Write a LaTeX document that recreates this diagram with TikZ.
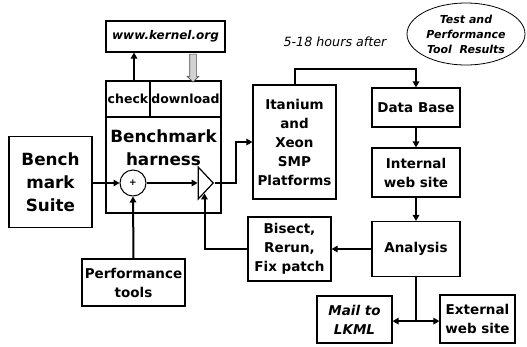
\documentclass[tikz,border=0pt]{standalone}
\usepackage{fontspec}
\setmainfont{DejaVu Sans}[ItalicFont=DejaVu Sans Oblique,BoldItalicFont=DejaVu Sans Bold Oblique]
\usetikzlibrary{arrows.meta,shapes.geometric,shapes.arrows}

\begin{document}
\begin{tikzpicture}[x=1pt,y=-1pt,
    blk/.style={draw, line width=1.2pt, inner sep=0pt, align=center, font=\fontsize{13.5}{19}\selectfont\bfseries},
    link/.style={line width=2pt, -{Triangle[length=6pt,width=6.5pt]}}]
	\useasboundingbox (0,0) rectangle (527,346);
	
	\node[blk, minimum width=119, minimum height=31, font=\fontsize{12}{14}\selectfont\bfseries\itshape] (kernel) at (165.5,36.5) {www.kernel.org};
	\node[blk, minimum width=115, minimum height=132] (harness) at (163.5,147) {};
	\node[blk, minimum width=44, minimum height=36, font=\fontsize{12.5}{14}\selectfont\bfseries] (check) at (128,99) {check};
	\node[blk, minimum width=71, minimum height=36, font=\fontsize{12.5}{14}\selectfont\bfseries] (download) at (185.5,99) {download};
	\node[align=center, font=\fontsize{16.8}{23}\selectfont\bfseries] (hlabel) at (163.5,148) {Benchmark\\harness};
	\node[draw, circle, line width=1pt, minimum size=26, inner sep=0pt, font=\fontsize{9}{9}\selectfont\bfseries] (plus) at (133,183) {+};
	\node[draw, isosceles triangle, isosceles triangle stretches, line width=1.2pt, minimum width=32, minimum height=15, inner sep=0pt] (amp) at (204.5,183) {};
	\node[single arrow, draw=gray!60!black, fill=gray!35, line width=.6pt, rotate=-90, minimum height=28, inner sep=3pt, single arrow head extend=2.5pt, single arrow head indent=0pt] (dl) at (193,66.5) {};
	
	\node[blk, minimum width=83, minimum height=91, font=\fontsize{16.8}{23}\selectfont\bfseries] (suite) at (50.5,182) {Bench\\mark\\Suite};
	\node[blk, minimum width=103, minimum height=47] (perf) at (133.5,282.5) {Performance\\tools};
	\node[blk, minimum width=83, minimum height=114] (itanium) at (294.5,142) {Itanium\\and\\Xeon\\SMP\\Platforms};
	\node[blk, minimum width=83, minimum height=64] (bisect) at (289.5,249) {Bisect,\\Rerun,\\Fix patch};
	\node[blk, minimum width=88, minimum height=39] (database) at (416,107.5) {Data Base};
	\node[blk, minimum width=88, minimum height=49] (internal) at (416,172.5) {Internal\\web site};
	\node[blk, minimum width=88, minimum height=55] (analysis) at (416,249) {Analysis};
	\node[blk, minimum width=75, minimum height=47, font=\fontsize{13.5}{19}\selectfont\bfseries\itshape] (mail) at (354.5,319.5) {Mail to\\LKML};
	\node[blk, minimum width=75, minimum height=48] (external) at (477.5,319) {External\\web site};
	
	\node[align=center, inner sep=0pt, font=\fontsize{11}{15}\selectfont\bfseries\itshape] (results) at (466,34) {Test and\\Performance\\Tool\ \ Results};
	\draw[line width=.8pt] (results.center) ellipse [x radius=59, y radius=31];
	\node[font=\fontsize{12.7}{15}\selectfont\itshape] (delay) at (335,42) {5-18 hours after};
	
	\draw[link] ([xshift=6]check.north) -- ([xshift=6]check.north |- kernel.south);
	\draw[link] (suite.east |- plus.west) -- (plus.west);
	\draw[link] (plus.east) -- (amp.west);
	\draw[link] (amp.east) -- ++(21,0) |- (itanium.west);
	\draw[link] (perf.north) -- (plus.south);
	\draw[link] (bisect.west) -| (amp.south);
	\draw[link] (itanium.north) -- ++(0,-15) -| (database.north);
	\draw[link] (database) -- (internal);
	\draw[link] (internal) -- (analysis);
	\draw[link] (analysis) -- (bisect);
	\draw[line width=2pt] (analysis.south) -- ++(0,44) coordinate (split);
	\draw[link] (split) -- (split -| mail.east);
	\draw[link] (split) -- (split -| external.west);
\end{tikzpicture}
\end{document}
